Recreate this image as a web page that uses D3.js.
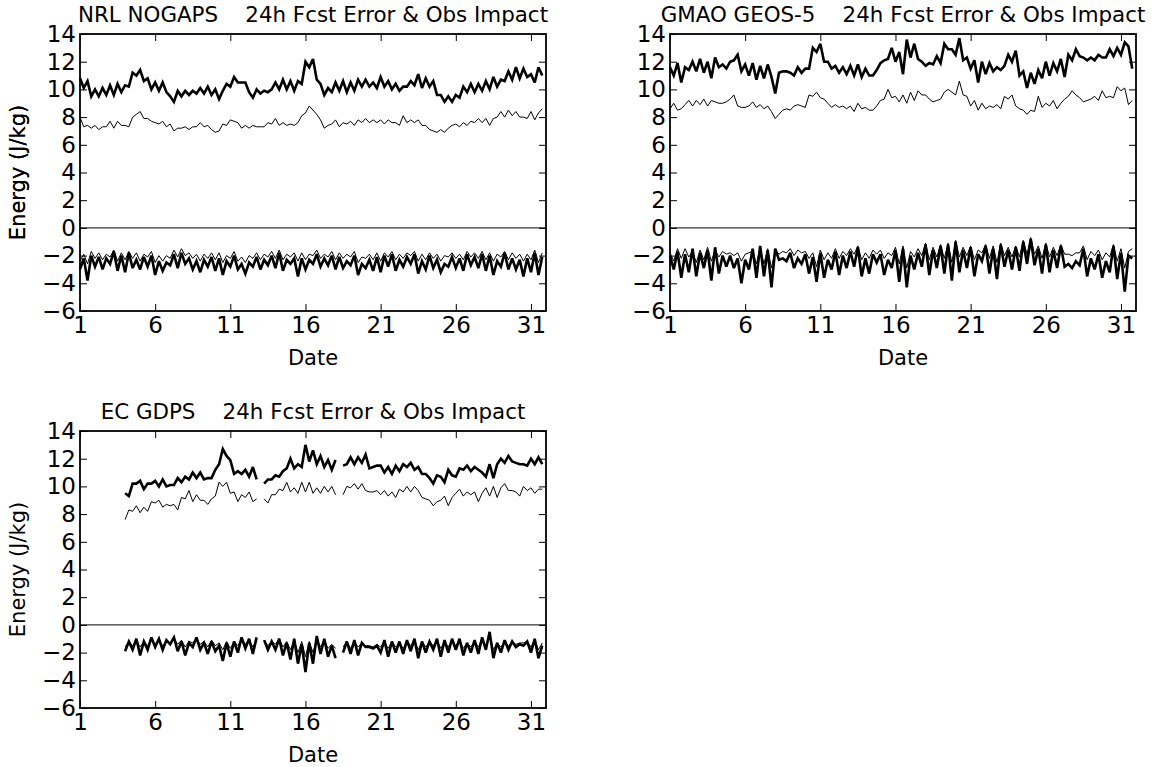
<!DOCTYPE html>
<html>
<head>
<meta charset="utf-8">
<script src="https://cdn.jsdelivr.net/npm/d3@7"></script>
<style>
  body { margin: 0; background: #fff; }
  svg text { font-family: "DejaVu Sans", sans-serif; fill: #000; }
</style>
</head>
<body>
<svg id="chart" width="1160" height="767"></svg>
<script>
/* 6-hourly analysis times, day of month */
var dates_full = d3.range(124).map(function(i){ return 1 + i / 4; });
var dates_ec   = d3.range(112).map(function(i){ return 4 + i / 4; });

var y_ticks = [-6, -4, -2, 0, 2, 4, 6, 8, 10, 12, 14];
var x_ticks = [1, 6, 11, 16, 21, 26, 31];

/* NRL NOGAPS */
var nrl_err_thick = [
  10.8,10.1,10.6,9.5, 10.0,9.5,10.1,9.6, 10.3,9.6,10.4,9.8, 10.3,10.2,11.2,11.0,
  11.4,10.6,10.8,10.0, 10.5,9.9,10.5,9.8, 9.5,9.1,9.9,9.5, 9.9,9.6,9.9,9.7,
  10.1,9.7,10.2,9.6, 10.0,9.3,9.9,10.4, 10.2,10.9,10.5,10.5, 10.5,9.8,9.4,10.0,
  9.7,9.9,9.8,10.0, 10.5,10.0,10.7,10.0, 10.6,9.9,10.6,10.4, 12.0,11.6,12.2,10.7,
  10.4,9.6,10.1,9.8, 10.5,9.9,10.6,9.8, 10.5,9.9,10.7,10.2, 10.7,10.2,10.5,10.1,
  10.9,10.2,10.6,10.0, 10.4,9.9,10.2,10.2, 10.6,10.3,11.1,10.1, 10.8,10.2,10.6,9.6,
  9.6,9.1,9.5,9.1, 9.6,9.4,10.2,9.8, 10.4,9.8,10.4,9.9, 10.6,10.0,10.9,10.2,
  10.7,10.6,11.3,10.7, 11.6,10.8,11.5,10.9, 11.1,10.5,11.6,11.0
];
var nrl_err_thin = [
  8.0,7.3,7.4,7.2, 7.4,7.1,7.3,7.3, 7.7,7.2,7.7,7.4, 7.4,7.3,8.0,8.2,
  8.4,7.9,7.9,7.7, 7.6,7.5,7.7,7.3, 7.5,7.0,7.2,7.2, 7.3,7.1,7.3,7.3,
  7.6,7.3,7.4,7.1, 6.9,7.0,7.5,7.4, 7.8,7.7,7.6,7.2, 7.4,7.2,7.4,7.3,
  7.3,7.3,7.6,7.5, 7.9,7.4,7.6,7.4, 7.5,7.4,7.6,8.1, 8.3,8.8,8.5,8.2,
  7.8,7.2,7.4,7.5, 7.8,7.3,7.6,7.5, 7.7,7.4,7.8,7.6, 7.9,7.6,7.8,7.6,
  7.8,7.5,7.8,7.6, 7.6,7.4,8.1,7.6, 7.8,7.6,7.8,7.4, 7.4,7.1,7.0,6.9,
  7.1,6.9,7.2,7.4, 7.5,7.3,7.6,7.4, 7.7,7.6,7.9,7.6, 7.9,7.4,7.9,8.0,
  8.4,8.0,8.5,8.1, 8.4,8.0,8.0,7.9, 8.4,7.8,8.3,8.6
];
var nrl_imp_thin = [
  -2.4,-1.9,-2.6,-1.7, -2.2,-1.8,-2.3,-1.9, -2.1,-1.6,-2.4,-1.8, -2.3,-1.7,-2.2,-1.8,
  -2.4,-1.9,-2.1,-1.7, -2.5,-2.0,-2.4,-2.0, -2.2,-1.6,-2.1,-1.5, -2.0,-1.8,-2.2,-1.9,
  -2.4,-1.9,-2.2,-1.8, -2.3,-1.8,-2.5,-2.0, -2.2,-1.7,-2.4,-2.1, -2.5,-2.0,-2.2,-1.8,
  -2.3,-1.9,-2.1,-1.7, -2.2,-1.6,-2.3,-1.9, -2.1,-1.8,-2.4,-1.8, -2.3,-1.9,-2.0,-1.6,
  -2.2,-1.9,-2.1,-1.7, -2.3,-1.8,-2.2,-1.9, -2.1,-1.7,-2.5,-2.1, -2.2,-1.9,-2.3,-1.8,
  -2.4,-1.8,-2.1,-1.7, -2.3,-1.9,-2.2,-1.8, -2.0,-1.7,-2.4,-1.9, -2.3,-1.8,-2.2,-1.9,
  -2.4,-2.0,-2.1,-1.8, -2.2,-1.9,-2.3,-1.7, -2.1,-1.8,-2.2,-1.7, -2.3,-1.8,-2.4,-1.9,
  -2.1,-1.7,-2.3,-1.8, -2.2,-1.9,-2.4,-1.9, -2.3,-1.6,-2.5,-1.8
];
var nrl_imp_thick = [
  -3.0,-2.2,-3.8,-2.0, -2.8,-2.1,-3.0,-2.2, -2.6,-1.7,-3.1,-2.0, -3.2,-1.8,-2.9,-2.3,
  -3.0,-2.1,-2.8,-2.0, -3.4,-2.4,-3.1,-2.5, -2.7,-1.9,-2.9,-1.8, -2.6,-2.2,-3.0,-2.4,
  -3.2,-2.3,-2.8,-2.1, -3.1,-2.2,-3.4,-2.4, -2.8,-2.0,-3.0,-2.6, -3.3,-2.5,-2.8,-2.1,
  -3.0,-2.3,-2.7,-2.0, -2.9,-1.8,-3.1,-2.3, -2.6,-2.2,-3.5,-2.2, -3.0,-2.3,-2.6,-1.9,
  -2.8,-2.2,-2.7,-2.0, -3.0,-2.1,-2.9,-2.4, -2.7,-2.0,-3.4,-2.6, -2.9,-2.3,-3.1,-2.1,
  -3.2,-2.0,-2.8,-1.9, -3.1,-2.3,-2.8,-2.1, -2.6,-1.9,-3.3,-2.4, -3.0,-2.0,-2.9,-2.3,
  -3.2,-2.6,-2.8,-2.1, -2.9,-2.2,-3.1,-1.9, -2.7,-2.1,-2.9,-1.9, -3.1,-2.0,-3.4,-2.4,
  -2.8,-1.8,-3.0,-2.2, -3.0,-2.3,-3.5,-2.2, -3.2,-1.8,-3.4,-2.1
];

/* GMAO GEOS-5 */
var gmao_err_thick = [
  11.6,11.0,11.9,10.5, 11.6,11.4,12.0,11.3, 12.2,11.2,12.0,10.8, 12.3,11.6,11.8,11.5,
  12.0,12.1,12.5,11.3, 11.8,11.0,11.9,10.7, 11.7,10.8,11.8,10.9, 9.7,11.2,11.3,11.3,
  11.2,11.0,11.6,11.2, 11.5,11.5,13.0,12.7, 13.3,12.0,12.0,11.5, 11.7,11.2,11.6,11.1,
  11.7,11.0,11.8,10.9, 11.5,11.0,11.0,11.4, 11.9,12.1,12.2,13.0, 12.0,12.7,11.1,13.6,
  12.3,13.3,12.2,12.0, 11.7,11.9,11.8,12.4, 11.9,13.3,12.9,12.9, 12.5,13.7,12.1,12.3,
  11.5,12.1,10.5,12.0, 11.1,11.9,11.3,11.6, 11.4,11.7,12.5,12.0, 12.8,11.0,11.3,10.1,
  11.2,10.4,11.4,10.8, 12.0,11.0,11.9,11.3, 12.2,10.9,12.5,12.1, 12.9,12.4,12.3,12.1,
  12.3,12.1,12.5,12.3, 12.3,12.9,12.4,13.0, 12.5,13.4,13.1,11.5
];
var gmao_err_thin = [
  8.6,9.0,8.5,8.6, 8.9,9.2,8.8,9.2, 8.9,9.3,8.8,9.2, 9.1,9.0,9.0,9.1,
  9.3,9.6,8.8,8.7, 8.7,8.8,9.1,8.7, 8.9,8.6,8.8,8.4, 7.9,8.2,8.5,8.6,
  8.5,8.8,8.9,8.8, 8.7,9.6,9.5,9.8, 9.4,9.3,9.0,8.7, 8.9,8.7,8.8,8.6,
  8.8,8.4,9.0,8.6, 8.7,8.5,8.5,8.8, 9.2,9.3,10.0,9.4, 9.5,9.1,9.6,9.0,
  9.8,9.2,9.9,9.6, 9.6,9.3,9.1,9.2, 9.3,9.8,10.0,9.8, 9.6,10.6,9.6,9.5,
  8.8,9.2,8.5,9.0, 8.6,8.8,8.7,8.9, 8.6,9.5,9.3,9.6, 8.8,8.6,8.5,8.2,
  8.5,8.4,9.5,8.7, 9.0,8.8,9.2,8.6, 9.0,9.3,9.5,9.9, 9.6,9.4,9.1,9.2,
  9.3,9.5,9.2,9.9, 9.4,9.5,9.4,10.2, 9.9,10.1,8.9,9.2
];
var gmao_imp_thin = [
  -1.8,-2.4,-1.5,-2.2, -1.5,-2.1,-1.7,-2.5, -1.6,-2.3,-1.4,-2.4, -1.6,-2.1,-1.7,-1.9,
  -1.8,-2.0,-1.8,-2.4, -1.9,-1.8,-1.7,-2.6, -1.4,-2.6,-1.5,-2.9, -1.6,-1.9,-1.7,-1.8,
  -1.5,-2.0,-1.6,-1.8, -1.7,-2.2,-1.8,-2.8, -1.6,-2.3,-1.8,-2.2, -1.5,-2.2,-1.7,-2.0,
  -1.5,-1.9,-1.3,-2.3, -1.8,-2.2,-1.6,-1.9, -1.6,-2.2,-1.8,-2.0, -1.4,-2.6,-1.3,-2.9,
  -1.7,-2.1,-1.5,-2.0, -1.1,-2.3,-1.4,-2.1, -1.2,-2.2,-1.1,-2.5, -0.9,-2.1,-1.4,-2.0,
  -1.3,-2.3,-1.6,-1.8, -1.2,-2.2,-1.3,-2.5, -1.1,-2.0,-1.4,-2.1, -1.3,-2.1,-0.9,-1.9,
  -0.7,-1.9,-1.3,-2.2, -1.1,-2.1,-1.4,-2.0, -1.2,-1.9,-1.9,-2.0, -1.8,-1.8,-1.3,-2.3,
  -1.7,-2.0,-1.6,-2.3, -1.8,-2.1,-1.2,-2.4, -1.5,-2.9,-1.7,-1.5
];
var gmao_imp_thick = [
  -2.0,-3.0,-1.7,-3.6, -1.9,-3.2,-1.5,-3.5, -1.8,-2.9,-1.6,-3.8, -1.4,-3.3,-2.0,-2.8,
  -2.0,-2.9,-2.2,-4.0, -2.3,-3.0,-1.5,-3.6, -1.3,-3.5,-1.6,-4.3, -1.5,-2.3,-2.2,-2.4,
  -1.8,-2.9,-2.2,-2.6, -1.9,-3.3,-2.1,-3.9, -1.8,-3.6,-2.3,-3.0, -1.7,-3.4,-2.0,-2.9,
  -1.7,-2.8,-1.4,-3.5, -2.2,-3.3,-1.9,-2.5, -1.9,-3.4,-2.3,-2.9, -1.6,-3.9,-1.5,-4.3,
  -2.0,-3.0,-1.8,-2.8, -1.2,-3.4,-1.6,-2.9, -1.3,-3.3,-1.2,-3.8, -1.0,-3.2,-1.6,-2.9,
  -1.4,-3.5,-1.9,-2.4, -1.3,-3.3,-1.5,-3.7, -1.2,-2.8,-1.6,-3.0, -1.4,-3.1,-1.0,-2.6,
  -0.8,-2.7,-1.5,-3.3, -1.2,-3.2,-1.6,-2.9, -1.3,-2.8,-2.6,-2.9, -2.4,-2.7,-1.5,-3.5,
  -2.2,-3.0,-1.9,-3.6, -2.4,-3.2,-1.3,-3.7, -1.8,-4.6,-2.0,-2.2
];

/* EC GDPS (starts day 4, two missing times) */
var ec_err_thick = [
  9.5,9.3,10.2,10.2, 10.4,9.8,10.2,10.2, 10.4,10.0,10.5,10.0, 10.1,10.1,10.6,10.3,
  10.7,10.5,11.0,10.6, 11.0,10.5,10.6,10.6, 11.2,11.6,12.7,12.2, 11.9,10.9,11.1,10.9,
  11.2,10.7,11.4,10.5, null,10.2,10.5,10.5, 10.8,10.7,11.1,11.3, 12.0,11.3,11.6,11.4,
  13.0,11.8,12.6,11.6, 12.2,11.4,11.9,11.2, 11.9,null,11.5,11.6, 12.1,11.6,12.1,11.7,
  12.3,11.3,11.4,11.5, 11.5,11.0,11.4,10.9, 11.5,11.1,11.6,11.4, 11.7,11.2,11.4,10.9,
  10.9,10.6,10.2,10.8, 10.7,10.3,11.2,10.8, 10.7,11.3,11.2,11.5, 11.1,11.4,11.2,11.0,
  10.7,11.6,10.6,11.6, 12.0,11.7,12.2,11.8, 11.7,11.6,11.6,11.5, 12.0,11.6,12.1,11.6
];
var ec_err_thin = [
  7.6,8.3,8.2,8.6, 8.1,8.5,8.2,8.9, 8.8,9.0,8.5,8.7, 8.6,8.7,8.3,9.2,
  9.1,9.7,8.9,9.4, 9.0,9.0,8.7,9.1, 9.3,10.3,10.0,10.3, 9.5,9.6,8.9,9.4,
  9.2,9.6,8.9,9.1, null,9.1,8.8,9.4, 9.4,9.8,9.7,10.3, 9.6,9.9,9.5,10.3,
  9.6,10.3,9.5,9.9, 9.5,10.0,9.6,10.0, 9.4,null,9.4,10.0, 9.9,10.2,9.8,10.2,
  9.7,9.6,9.6,9.7, 9.4,9.7,9.3,9.6, 9.2,9.8,9.6,10.0, 9.6,10.0,9.7,9.2,
  9.1,9.0,8.6,8.9, 9.0,9.3,8.6,9.2, 9.5,9.8,9.3,9.6, 9.4,9.6,8.9,9.5,
  9.9,9.3,10.0,9.2, 9.9,10.2,9.7,9.7, 9.6,9.3,10.0,9.7, 9.9,9.5,9.8,9.8
];
var ec_imp_thin = [
  -1.6,-1.2,-1.5,-1.1, -1.6,-1.2,-1.5,-1.0, -1.4,-1.1,-1.5,-1.2, -1.3,-1.0,-1.4,-1.1,
  -1.6,-1.2,-1.3,-1.0, -1.4,-1.2,-1.6,-1.1, -1.5,-1.3,-1.8,-1.2, -1.7,-1.2,-1.5,-1.0,
  -1.4,-1.1,-1.6,-1.0, null,-1.1,-1.5,-1.2, -1.4,-1.0,-1.6,-1.2, -1.8,-1.1,-2.0,-1.2,
  -2.3,-1.2,-2.0,-1.0, -1.6,-1.1,-1.7,-1.4, -1.7,null,-1.6,-1.2, -1.7,-1.2,-1.6,-1.3,
  -1.5,-1.5,-1.6,-1.4, -1.6,-1.2,-1.7,-1.2, -1.6,-1.3,-1.7,-1.2, -1.5,-1.1,-1.8,-1.2,
  -1.6,-1.2,-1.5,-1.1, -1.7,-1.2,-1.6,-1.1, -1.5,-1.1,-1.7,-1.3, -1.6,-1.2,-1.6,-1.0,
  -1.5,-0.7,-1.8,-1.3, -1.6,-1.2,-1.5,-1.3, -1.4,-1.3,-1.3,-1.2, -1.6,-1.1,-1.8,-1.3
];
var ec_imp_thick = [
  -1.9,-1.2,-1.8,-1.0, -2.2,-1.2,-1.8,-0.9, -1.6,-1.0,-1.8,-1.1, -1.4,-0.9,-1.9,-1.2,
  -2.2,-1.3,-1.6,-0.9, -1.8,-1.3,-2.1,-1.2, -1.9,-1.5,-2.6,-1.3, -2.3,-1.2,-2.0,-0.9,
  -1.7,-1.0,-2.1,-0.9, null,-1.1,-1.8,-1.2, -1.8,-1.0,-2.2,-1.3, -2.5,-1.0,-2.8,-1.4,
  -3.4,-1.3,-2.8,-0.8, -2.1,-1.0,-2.3,-1.5, -2.4,null,-2.0,-1.2, -2.1,-1.1,-2.2,-1.3,
  -1.6,-1.6,-1.7,-1.5, -2.0,-1.1,-2.3,-1.2, -2.0,-1.2,-2.1,-1.1, -1.9,-1.0,-2.4,-1.2,
  -2.0,-1.2,-1.8,-1.0, -2.3,-1.1,-2.0,-1.0, -1.8,-1.0,-2.2,-1.3, -2.0,-1.1,-2.1,-0.9,
  -1.8,-0.5,-2.4,-1.3, -2.0,-1.1,-1.8,-1.2, -1.6,-1.4,-1.5,-1.2, -2.0,-1.0,-2.4,-1.5
];

var panels = [
  { title: "NRL NOGAPS    24h Fcst Error & Obs Impact", left: 80, top: 34, dates: dates_full,
    thick: [nrl_err_thick, nrl_imp_thick], thin: [nrl_err_thin, nrl_imp_thin] },
  { title: "GMAO GEOS-5    24h Fcst Error & Obs Impact", left: 670, top: 34, dates: dates_full,
    thick: [gmao_err_thick, gmao_imp_thick], thin: [gmao_err_thin, gmao_imp_thin] },
  { title: "EC GDPS    24h Fcst Error & Obs Impact", left: 80, top: 431, dates: dates_ec,
    thick: [ec_err_thick, ec_imp_thick], thin: [ec_err_thin, ec_imp_thin] }
];

var W = 466, H = 277, tick_len = 7, font = 21, tick_font = 23;
var svg = d3.select("#chart");

panels.forEach(function(p){
  var g = svg.append("g").attr("transform", "translate(" + p.left + "," + p.top + ")");
  var x = d3.scaleLinear().domain([1, 32]).range([0, W]);
  var y = d3.scaleLinear().domain([-6, 14]).range([H, 0]);
  var fmt = function(d){ return d < 0 ? "\u2212" + Math.abs(d) : String(d); };

  var line = d3.line()
    .defined(function(d){ return d != null; })
    .x(function(d, i){ return x(p.dates[i]); })
    .y(function(d){ return y(d); });

  // zero line
  g.append("line").attr("x1", 0).attr("x2", W).attr("y1", y(0)).attr("y2", y(0))
    .attr("stroke", "#000").attr("stroke-width", 1);

  p.thick.forEach(function(s){
    g.append("path").datum(s).attr("d", line).attr("fill", "none")
      .attr("stroke", "#000").attr("stroke-width", 2.6).attr("stroke-linejoin", "miter").attr("stroke-miterlimit", 3);
  });
  p.thin.forEach(function(s){
    g.append("path").datum(s).attr("d", line).attr("fill", "none")
      .attr("stroke", "#000").attr("stroke-width", 1);
  });

  // axes with inward ticks
  var axB = g.append("g").attr("transform", "translate(0," + H + ")")
    .call(d3.axisBottom(x).tickValues(x_ticks).tickSize(-tick_len).tickPadding(6));
  var axT = g.append("g")
    .call(d3.axisTop(x).tickValues(x_ticks).tickSize(-tick_len).tickFormat(""));
  var axL = g.append("g")
    .call(d3.axisLeft(y).tickValues(y_ticks).tickSize(-tick_len).tickPadding(4).tickFormat(fmt));
  var axR = g.append("g").attr("transform", "translate(" + W + ",0)")
    .call(d3.axisRight(y).tickValues(y_ticks).tickSize(-tick_len).tickFormat(""));
  [axB, axT, axL, axR].forEach(function(a){
    a.select(".domain").remove();
    a.selectAll(".tick line").attr("stroke", "#000").attr("stroke-width", 1);
    a.selectAll(".tick text").attr("font-size", tick_font).attr("font-family", "DejaVu Sans").attr("fill", "#000");
  });

  g.append("rect").attr("width", W).attr("height", H).attr("fill", "none")
    .attr("stroke", "#000").attr("stroke-width", 1.8);

  g.append("text").attr("x", W / 2).attr("y", -12).attr("text-anchor", "middle")
    .attr("font-size", font + 0.4).style("white-space", "pre").text(p.title);
  g.append("text").attr("x", W / 2).attr("y", H + 54).attr("text-anchor", "middle")
    .attr("font-size", font).text("Date");
  g.append("text").attr("transform", "translate(" + (25 - p.left) + "," + (H / 2) + ") rotate(-90)")
    .attr("text-anchor", "middle").attr("font-size", font).text("Energy (J/kg)");
});
</script>
</body>
</html>
